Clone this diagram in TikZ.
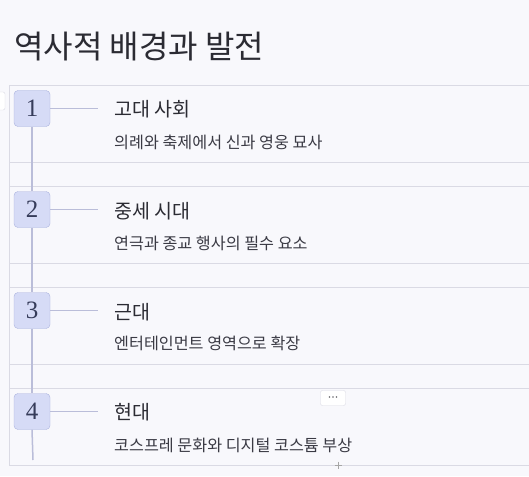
\documentclass[tikz,border=0pt]{standalone}
\usepackage{fontspec}
\usetikzlibrary{calc}
\setmainfont{Liberation Serif}
\newfontfamily\kr{Noto Sans CJK KR}
\newfontfamily\numfont{Liberation Serif}
\definecolor{bgc}{HTML}{F8F8FC}
\definecolor{framec}{HTML}{DADAE4}
\definecolor{boxfill}{HTML}{D6DBF6}
\definecolor{boxdraw}{HTML}{ABB3DE}
\definecolor{linec}{HTML}{BABDD9}
\definecolor{txt}{HTML}{2B2B33}
\definecolor{subtxt}{HTML}{3A3A44}
\definecolor{numc}{HTML}{363C5A}
\tikzset{
  numbox/.style={draw=boxdraw, fill=boxfill, rounded corners=4pt, minimum width=36pt, minimum height=36pt, inner sep=0pt, font=\numfont\fontsize{25}{25}\selectfont, text=numc},
  headtxt/.style={anchor=west, inner sep=0pt, font=\kr\fontsize{19.5}{19.5}\selectfont, text=txt},
  subtext/.style={anchor=west, inner sep=0pt, font=\kr\fontsize{16.2}{16.2}\selectfont, text=subtxt},
  sepline/.style={draw=framec, line width=0.8pt},
  conn/.style={draw=linec, line width=1.5pt},
}
\begin{document}
\begin{tikzpicture}[x=1pt,y=-1pt]
\useasboundingbox (0,0) rectangle (529,476);
\fill[bgc] (0,0) rectangle (529,476);
% title
\node[anchor=west, inner sep=0pt, font=\kr\fontsize{32}{32}\selectfont, text=txt] (title) at (14,47) {역사적 배경과 발전};
% small widget at left
\draw[framec, fill=white, rounded corners=2pt] (-6,92) rectangle (5,110);
% container
\draw[sepline] (535,85) -- (9.5,85) -- (9.5,465) -- (535,465);
\foreach \y in {162,186,263,287,364,388} {\draw[sepline] (9.5,\y) -- (535,\y);}
% vertical line
\coordinate (vend) at (33,460);
% boxes
\node[numbox] (n1) at (32,108.5) {1};
\node[numbox] (n2) at (32,209.5) {2};
\node[numbox] (n3) at (32,310.5) {3};
\node[numbox] (n4) at (32,411.5) {4};
\draw[conn] (n1.south) -- (n2.north);
\draw[conn] (n2.south) -- (n3.north);
\draw[conn] (n3.south) -- (n4.north);
\draw[conn] (n4.south) -- (vend);
% connectors
\coordinate (c1) at (98,108.5);
\coordinate (c2) at (98,209.5);
\coordinate (c3) at (98,310.5);
\coordinate (c4) at (98,411.5);
\draw[conn] (n1.east) -- (c1);
\draw[conn] (n2.east) -- (c2);
\draw[conn] (n3.east) -- (c3);
\draw[conn] (n4.east) -- (c4);
% texts
\node[headtxt] (h1) at (114,109.5) {고대 사회};
\node[subtext] (s1) at (114,142) {의례와 축제에서 신과 영웅 묘사};
\node[headtxt] (h2) at (114,211.5) {중세 시대};
\node[subtext] (s2) at (114,243.5) {연극과 종교 행사의 필수 요소};
\node[headtxt] (h3) at (114,312) {근대};
\node[subtext] (s3) at (114,343.5) {엔터테인먼트 영역으로 확장};
\node[headtxt] (h4) at (114,412) {현대};
\node[subtext] (s4) at (114,445) {코스프레 문화와 디지털 코스튬 부상};
% small button and plus
\node[draw=framec, fill=white, rounded corners=2pt, minimum width=25pt, minimum height=15pt, inner sep=0pt] (more) at (333,398) {};
\foreach \dx in {-3.5,0,3.5} {\fill[txt!70] ($(more.center)+(\dx,-1)$) circle (0.8pt);}
\draw[gray!70, line width=0.6pt] (334.5,465) -- (341.5,465) (338,461.5) -- (338,468.5);
\end{tikzpicture}
\end{document}
